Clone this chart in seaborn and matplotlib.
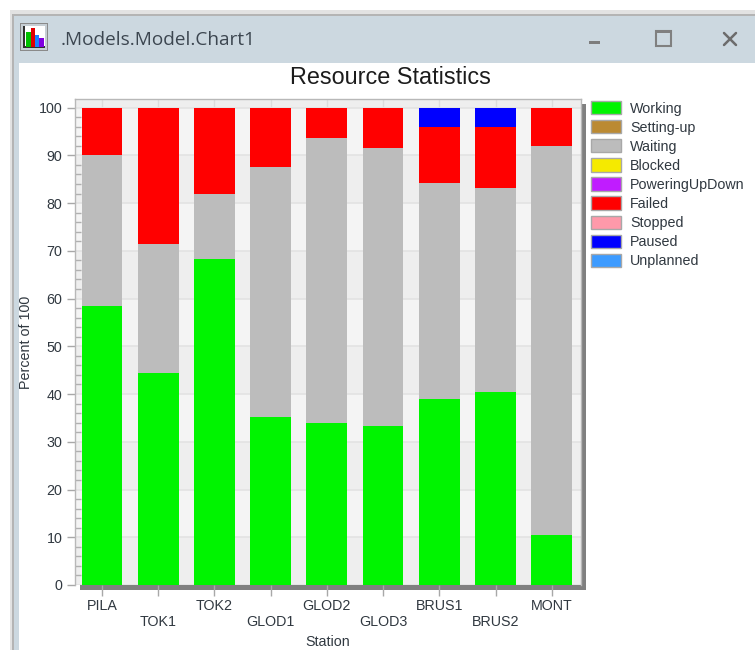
import matplotlib
matplotlib.use("Agg")
import matplotlib.pyplot as plt
import numpy as np
import seaborn as sns
from matplotlib.patches import Patch, Rectangle
from matplotlib.ticker import MultipleLocator

stations = ["PILA", "TOK1", "TOK2", "GLOD1", "GLOD2", "GLOD3", "BRUS1", "BRUS2", "MONT"]
working = [58.5, 44.5, 68.2, 35.2, 34.0, 33.3, 39.0, 40.5, 10.5]
setting_up = [0, 0, 0, 0, 0, 0, 0, 0, 0]
waiting = [31.5, 27.0, 13.8, 52.3, 59.7, 58.2, 45.2, 42.7, 81.5]
blocked = [0, 0, 0, 0, 0, 0, 0, 0, 0]
powering = [0, 0, 0, 0, 0, 0, 0, 0, 0]
failed = [10.0, 28.5, 18.0, 12.5, 6.3, 8.5, 11.8, 12.8, 8.0]
stopped = [0, 0, 0, 0, 0, 0, 0, 0, 0]
paused = [0, 0, 0, 0, 0, 0, 4.0, 4.0, 0]
unplanned = [0, 0, 0, 0, 0, 0, 0, 0, 0]
series_names = ["Working", "Setting-up", "Waiting", "Blocked", "PoweringUpDown",
                "Failed", "Stopped", "Paused", "Unplanned"]
series_values = [working, setting_up, waiting, blocked, powering, failed, stopped, paused, unplanned]
colors = ["#00f400", "#bb8a33", "#bcbcbc", "#f5ea00", "#c01cff",
          "#ff0000", "#ff99aa", "#0000ff", "#3d9bff"]

W, H = 755, 650
FS = 10.3
TXT = "#303840"
sns.set_theme(style="white")
plt.rcParams["font.family"] = ["Liberation Sans", "DejaVu Sans"]
fig = plt.figure(figsize=(W / 100, H / 100), dpi=100, facecolor="white")


def frect(x0, y0, x1, y1, color, z=0):
    fig.patches.append(Rectangle((x0 / W, 1 - y1 / H), (x1 - x0) / W, (y1 - y0) / H,
                                 transform=fig.transFigure, facecolor=color,
                                 edgecolor="none", zorder=z))


# window chrome
frect(10, 10, W, 14, "#e2e2e2")
frect(10, 14, W, 16, "#b4b4b4")
frect(10, 14, 12, H, "#e2e2e2")
frect(12, 14, 13.5, H, "#b4b4b4")
frect(13.5, 16, W, 63, "#ccd8e0")
frect(13.5, 16, 18.5, H, "#ccd8e0")
# icon
frect(20, 23, 48, 51, "#8a8a8a")
frect(21, 24, 47, 50, "#c6ced4")
frect(23, 26, 45, 48, "#ffffff")
frect(23, 26, 25, 48, "#303030")
frect(23, 46.5, 45, 48, "#303030")
frect(26, 32, 31, 47, "#00c000")
frect(31, 28, 35, 47, "#e00000")
frect(35, 35, 39, 47, "#1a80ff")
frect(39, 38, 44, 47, "#8000e0")
fig.text(61 / W, 1 - 40 / H, ".Models.Model.Chart1", fontsize=13.7, family="Open Sans",
         color="#3c4650", va="center", ha="left")
# window buttons
frect(589, 41, 600, 44, "#7d7d7d")
fig.patches.append(Rectangle((655.5 / W, 1 - 46 / H), 15 / W, 15 / H, transform=fig.transFigure,
                             facecolor="none", edgecolor="#808080", linewidth=1.5))
frect(655, 31, 671, 33, "#808080")
fig.add_artist(plt.Line2D([724 / W, 736 / W], [1 - 33 / H, 1 - 45 / H], color="#6c6c6c", lw=1.8))
fig.add_artist(plt.Line2D([724 / W, 736 / W], [1 - 45 / H, 1 - 33 / H], color="#6c6c6c", lw=1.8))
# drop shadow of the plot area
frect(581, 104, 586, 590, "#808080")
frect(80, 585, 586, 590, "#808080")

left, right, top, bottom = 75, 581, 99, 585
ax = fig.add_axes([left / W, 1 - bottom / H, (right - left) / W, (bottom - top) / H], zorder=2)

cum = np.zeros(len(stations))
for values, color in zip(series_values, colors):
    sns.barplot(x=stations, y=values, bottom=cum, color=color, width=0.725, saturation=1,
                linewidth=0, errorbar=None, ax=ax, zorder=3)
    cum = cum + np.array(values, dtype=float)

ax.set_xlim(-0.48, 8.52)
ax.set_ylim(0, 101.8)
ax.set_facecolor("#eeeeee")
for y0 in range(10, 100, 20):
    ax.axhspan(y0, y0 + 10, color="#f4f4f4", lw=0, zorder=0)
ax.yaxis.set_major_locator(MultipleLocator(10))
ax.yaxis.set_minor_locator(MultipleLocator(2))
ax.grid(True, axis="y", which="major", color="#e2e2e2", lw=1.2, zorder=1)
ax.set_axisbelow(True)
for s in ax.spines.values():
    s.set_color("#b8b8b8")
    s.set_linewidth(1.0)
ax.spines["bottom"].set_visible(False)

ax.set_xticks(range(len(stations)))
ax.set_xticklabels([n if i % 2 == 0 else "\n" + n for i, n in enumerate(stations)])
ax.tick_params(axis="x", which="major", direction="out", length=8, width=1, color="#a8a8a8",
               labelsize=FS, labelcolor=TXT, pad=2, bottom=True)
ax.tick_params(axis="y", which="major", direction="out", length=6, width=1, color="#a8a8a8",
               labelsize=FS, labelcolor=TXT, pad=3, left=True)
ax.tick_params(axis="y", which="minor", direction="in", length=4.5, width=1, color="#b0b0b0", left=True)
ax.set_xlabel("Station", fontsize=FS, color=TXT, labelpad=4)
ax.set_ylabel("Percent of 100", fontsize=FS, color=TXT, labelpad=4)

sec = ax.secondary_xaxis("top")
sec.set_xticks(range(len(stations)))
sec.set_xticklabels([])
sec.tick_params(direction="in", length=6, width=1, color="#dcdcdc")
sec.spines["top"].set_visible(False)

fig.text(390 / W, 1 - 77.5 / H, "Resource Statistics", fontsize=16.8, color="#1c1c1c",
         ha="center", va="center")

handles = [Patch(facecolor=c, edgecolor="#a8a8a8", linewidth=1) for c in colors]
leg = fig.legend(handles, series_names, loc="upper left",
                 bbox_to_anchor=(591 / W, 1 - 101 / H), bbox_transform=fig.transFigure,
                 frameon=False, fontsize=FS, labelcolor=TXT, borderpad=0, borderaxespad=0,
                 handlelength=2.1, handleheight=1.05, handletextpad=0.65, labelspacing=0.32)

fig.savefig("out.png", dpi=100, facecolor="white")
